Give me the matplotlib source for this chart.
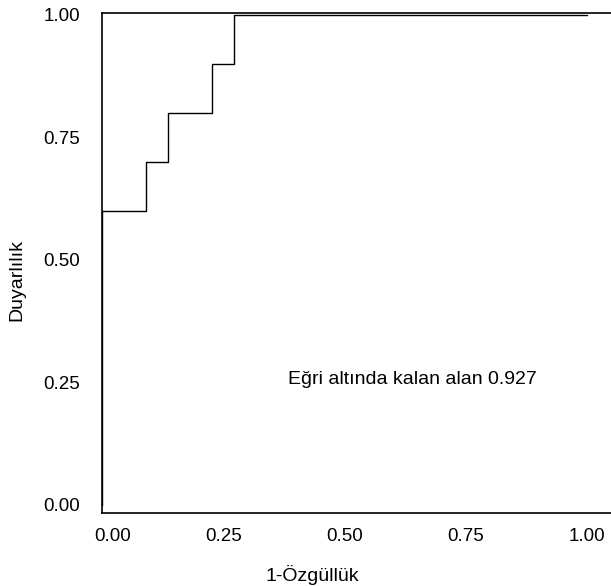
import matplotlib
matplotlib.use('Agg')
import matplotlib.pyplot as plt
from matplotlib.transforms import ScaledTranslation

# ROC egrisi: 22 negatif, 10 pozitif
fpr = [0, 0, 2/22, 3/22, 5/22, 6/22, 1.0]
tpr = [0, 0.6, 0.7, 0.8, 0.9, 1.0, 1.0]
ticks = [0, 0.25, 0.5, 0.75, 1.0]
tick_labels = ['0.00', '0.25', '0.50', '0.75', '1.00']
auc_text = 'Eğri altında kalan alan 0.927'

plt.rcParams['font.family'] = ['Liberation Sans', 'DejaVu Sans']

fig = plt.figure(figsize=(6.11, 5.86), dpi=100)
ax = fig.add_axes([102/611, 73/586, 514/611, 500/586])

ax.plot(fpr, tpr, drawstyle='steps-post', color='black', lw=1.0)

ax.set_xlim(0, 1.06)
ax.set_ylim(-0.0165, 1.0035)
ax.set_xticks(ticks)
ax.set_xticklabels(tick_labels)
ax.set_yticks(ticks)
ax.set_yticklabels(tick_labels)
ax.tick_params(length=0, labelsize=13.5, colors='black')
ax.tick_params(axis='x', pad=11)
ax.tick_params(axis='y', pad=16)
for s in ax.spines.values():
    s.set_linewidth(1.2)
ax.spines['right'].set_visible(False)

# ilk x etiketi biraz saga kayik
first = ax.get_xticklabels()[0]
first.set_transform(first.get_transform() + ScaledTranslation(11/100, 0, fig.dpi_scale_trans))

ax.set_xlabel('1-Özgüllük', fontsize=14)
ax.xaxis.set_label_coords(0.41, -0.124)
ax.xaxis.label.set_va('center')
ax.set_ylabel('Duyarlılık', fontsize=14)
ax.yaxis.set_label_coords(-0.165, 0.466)
ax.yaxis.label.set_va('center')
ax.text(0.64, 0.256, auc_text, fontsize=14, ha='center', va='center')

fig.savefig('out.png', dpi=100)
